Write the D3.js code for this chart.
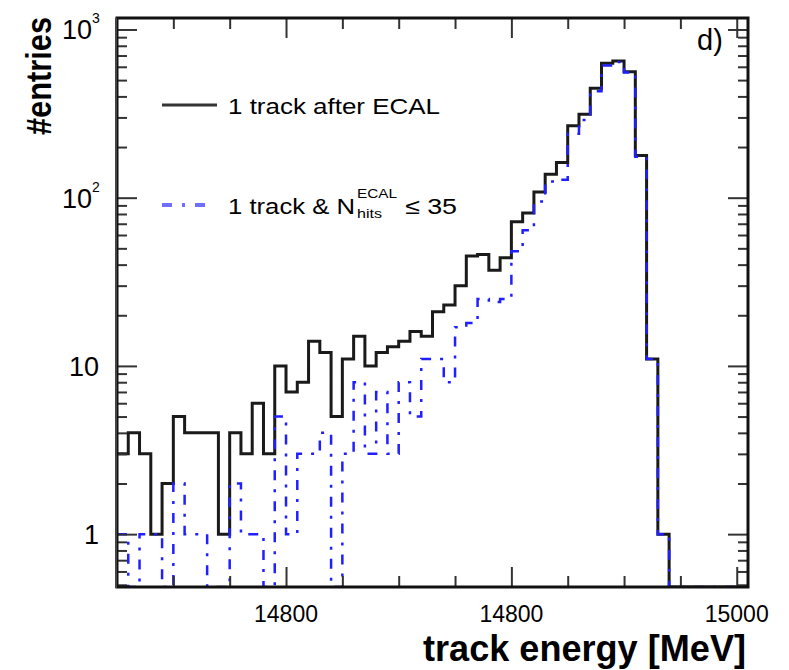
<!DOCTYPE html>
<html><head><meta charset="utf-8">
<script src="https://cdn.jsdelivr.net/npm/d3@7"></script>
<style>body{margin:0;background:#fff}svg{display:block}</style>
</head><body>
<svg id="c" width="789" height="670"></svg>
<script>
// ---- data ----
const binStart = 14725;   // MeV, left edge of first bin
const binWidth = 5;       // MeV
const trackAfterEcal = [3,4,3,1,2,5,4,4,4,1,4,3,6,3,10,7,8,14,12,5,11,15,10,12,13,14,16,15,21,23,30,45,46,37,44,72,81,108,138,162,268,313,447,629,649,561,178,11,1,0,0,0,0,0,0,0];
const trackNhits35  = [1,0,1,1,0,2,1,1,0,0,2,1,1,0,5,1,3,3,4,0,3,8,3,7,3,8,5,11,11,8,17,18,25,24,25,48,64,95,125,128,240,290,430,610,640,555,175,11,1,0,0,0,0,0,0,0];
const xTickValues = [14800, 14900, 15000];
const xTickLabels = ["14800", "14800", "15000"];
const xMinorValues = [14750,14775,14825,14850,14875,14925,14950,14975];
const yTickValues = [1, 10, 100, 1000];
const yTickBase = ["1", "10", "10", "10"];
const yTickSup  = ["", "", "2", "3"];
const yMinorValues = [0.5,0.6,0.7,0.8,0.9,2,3,4,5,6,7,8,9,20,30,40,50,60,70,80,90,200,300,400,500,600,700,800,900];

// ---- layout ----
const L = 117, R = 748, T = 18, B = 587;
const svg = d3.select("#c");
const x = d3.scaleLinear().domain([14725, 15005]).range([L, R]);
const y = d3.scaleLog().domain([0.485, 1170]).range([B, T]);
const FONT = "'Liberation Sans', Arial, Helvetica, sans-serif";

svg.append("defs").append("clipPath").attr("id", "clip")
  .append("rect").attr("x", L).attr("y", T).attr("width", R - L).attr("height", B - T);

function stepPoints(vals) {
  const pts = [];
  const ymin = y.domain()[0];
  vals.forEach((v, i) => {
    const x0 = binStart + i * binWidth;
    const vv = v > 0 ? v : ymin;
    pts.push([x0, vv], [x0 + binWidth, vv]);
  });
  return pts;
}
const line = d3.line().x(d => x(d[0])).y(d => y(d[1]));

const g = svg.append("g").attr("clip-path", "url(#clip)");
g.append("path").attr("d", line(stepPoints(trackAfterEcal)))
  .attr("fill", "none").attr("stroke", "#1a1a1a").attr("stroke-width", 3);
g.append("path").attr("d", line(stepPoints(trackNhits35)))
  .attr("fill", "none").attr("stroke", "#1f1fff").attr("stroke-width", 2.5)
  .attr("stroke-dasharray", "10 9 3 9");

// ---- axes (ticks inward on all sides) ----
function styleAxis(sel) {
  sel.select(".domain").remove();
  sel.selectAll(".tick line").attr("stroke", "#333").attr("stroke-width", 2);
  sel.selectAll(".tick text").remove();
}
svg.append("g").attr("transform", `translate(0,${B})`)
  .call(d3.axisBottom(x).tickValues(xTickValues).tickSize(-20)).call(styleAxis);
svg.append("g").attr("transform", `translate(0,${B})`)
  .call(d3.axisBottom(x).tickValues(xMinorValues).tickSize(-11)).call(styleAxis);
svg.append("g").attr("transform", `translate(0,${T})`)
  .call(d3.axisTop(x).tickValues(xTickValues).tickSize(-20)).call(styleAxis);
svg.append("g").attr("transform", `translate(0,${T})`)
  .call(d3.axisTop(x).tickValues(xMinorValues).tickSize(-11)).call(styleAxis);
svg.append("g").attr("transform", `translate(${L},0)`)
  .call(d3.axisLeft(y).tickValues(yTickValues).tickSize(-20)).call(styleAxis);
svg.append("g").attr("transform", `translate(${L},0)`)
  .call(d3.axisLeft(y).tickValues(yMinorValues).tickSize(-10)).call(styleAxis);
svg.append("g").attr("transform", `translate(${R},0)`)
  .call(d3.axisRight(y).tickValues(yTickValues).tickSize(-20)).call(styleAxis);
svg.append("g").attr("transform", `translate(${R},0)`)
  .call(d3.axisRight(y).tickValues(yMinorValues).tickSize(-10)).call(styleAxis);

// frame
svg.append("rect").attr("x", L).attr("y", T).attr("width", R - L).attr("height", B - T)
  .attr("fill", "none").attr("stroke", "#111").attr("stroke-width", 3);
svg.append("line").attr("x1", L - 1).attr("x2", L - 1).attr("y1", T).attr("y2", B + 1)
  .attr("stroke", "#444").attr("stroke-width", 2);

// tick labels
svg.append("g").selectAll("text").data(xTickValues).join("text")
  .attr("x", d => x(d)).attr("y", 622)
  .attr("text-anchor", "middle").attr("font-family", FONT).attr("font-size", 23)
  .text((d, i) => xTickLabels[i]);

svg.append("g").selectAll("text").data(yTickValues).join("text")
  .attr("x", (d, i) => yTickSup[i] ? 92 : 99)
  .attr("y", d => y(d) + 10)
  .attr("text-anchor", "end").attr("font-family", FONT).attr("font-size", 27)
  .text((d, i) => yTickBase[i]);
svg.append("g").selectAll("text").data(yTickValues.filter((d, i) => yTickSup[i])).join("text")
  .attr("x", 92).attr("y", d => y(d) - 6)
  .attr("font-family", FONT).attr("font-size", 14)
  .text(d => yTickSup[yTickValues.indexOf(d)]);

// axis titles
svg.append("text").attr("x", 746).attr("y", 661).attr("text-anchor", "end")
  .attr("font-family", FONT).attr("font-weight", "bold").attr("font-size", 37)
  .attr("textLength", 323).attr("lengthAdjust", "spacingAndGlyphs")
  .text("track energy [MeV]");
svg.append("text").attr("transform", "translate(51,17) rotate(-90)")
  .attr("text-anchor", "end")
  .attr("font-family", FONT).attr("font-weight", "bold").attr("font-size", 35)
  .attr("textLength", 118).attr("lengthAdjust", "spacingAndGlyphs")
  .text("#entries");

// legend
svg.append("line").attr("x1", 162).attr("x2", 217).attr("y1", 105).attr("y2", 105)
  .attr("stroke", "#333").attr("stroke-width", 3);
svg.append("text").attr("x", 228).attr("y", 114).attr("font-family", FONT).attr("font-size", 22)
  .attr("textLength", 212).attr("lengthAdjust", "spacingAndGlyphs").text("1 track after ECAL");
svg.append("line").attr("x1", 162).attr("x2", 207).attr("y1", 205).attr("y2", 205)
  .attr("stroke", "#6f6fff").attr("stroke-width", 4).attr("stroke-dasharray", "10 10 3 10");
svg.append("text").attr("x", 228).attr("y", 214).attr("font-family", FONT).attr("font-size", 22)
  .attr("textLength", 127).attr("lengthAdjust", "spacingAndGlyphs").text("1 track & N");
svg.append("text").attr("x", 357).attr("y", 198).attr("font-family", FONT).attr("font-size", 12)
  .attr("textLength", 40).attr("lengthAdjust", "spacingAndGlyphs").text("ECAL");
svg.append("text").attr("x", 357).attr("y", 218).attr("font-family", FONT).attr("font-size", 12)
  .attr("textLength", 25).attr("lengthAdjust", "spacingAndGlyphs").text("hits");
svg.append("text").attr("x", 405).attr("y", 214).attr("font-family", FONT).attr("font-size", 22)
  .attr("textLength", 52).attr("lengthAdjust", "spacingAndGlyphs").text("\u2264 35");

// panel label
svg.append("text").attr("x", 697).attr("y", 50).attr("font-family", FONT).attr("font-size", 29)
  .text("d)");
</script>
</body></html>
